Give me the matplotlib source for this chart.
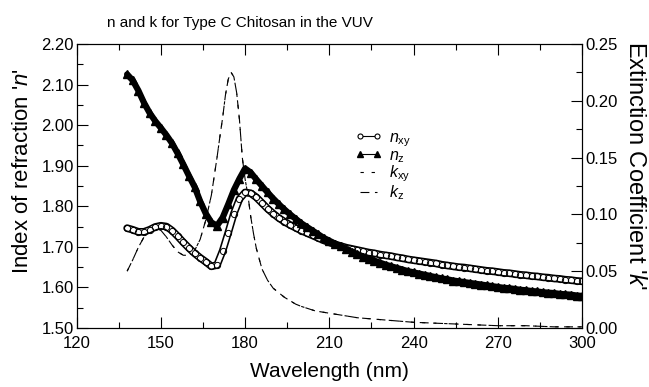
import matplotlib
matplotlib.use("Agg")
import matplotlib.pyplot as plt
from matplotlib.ticker import MultipleLocator, FormatStrFormatter

plt.rcParams['font.family'] = ['Liberation Sans', 'DejaVu Sans']
plt.rcParams['mathtext.fontset'] = 'custom'
plt.rcParams['mathtext.rm'] = 'Liberation Sans'
plt.rcParams['mathtext.it'] = 'Liberation Sans:italic'

# wavelength grid for the n curves (nm)
wl_n = [138, 140, 142, 144, 146, 148, 150, 152, 154, 156, 158, 160, 162, 164, 166, 168,
        170, 172, 174, 176, 178, 180, 182, 184, 186, 188, 190, 192, 194, 196, 198, 200,
        202, 204, 206, 208, 210, 212, 214, 216, 218, 220, 222, 224, 226, 228, 230, 232,
        234, 236, 238, 240, 242, 244, 246, 248, 250, 252, 254, 256, 258, 260, 262, 264,
        266, 268, 270, 272, 274, 276, 278, 280, 282, 284, 286, 288, 290, 292, 294, 296,
        298, 300]

n_xy = [1.746, 1.742, 1.737, 1.737, 1.742, 1.749, 1.752, 1.750, 1.740, 1.726, 1.711, 1.697,
        1.684, 1.673, 1.663, 1.652, 1.655, 1.690, 1.735, 1.782, 1.818, 1.834, 1.832, 1.822,
        1.808, 1.794, 1.782, 1.771, 1.762, 1.754, 1.747, 1.740, 1.734, 1.728, 1.722, 1.716,
        1.711, 1.706, 1.702, 1.698, 1.695, 1.692, 1.689, 1.686, 1.684, 1.681, 1.679, 1.677,
        1.674, 1.672, 1.669, 1.667, 1.665, 1.663, 1.661, 1.659, 1.656, 1.654, 1.652, 1.650,
        1.649, 1.647, 1.645, 1.643, 1.641, 1.640, 1.638, 1.636, 1.635, 1.633, 1.631, 1.630,
        1.628, 1.627, 1.625, 1.624, 1.622, 1.621, 1.619, 1.618, 1.616, 1.615]

n_z = [2.125, 2.110, 2.085, 2.055, 2.030, 2.010, 1.993, 1.975, 1.955, 1.930, 1.903, 1.875,
       1.848, 1.812, 1.782, 1.760, 1.752, 1.772, 1.805, 1.840, 1.868, 1.893, 1.883, 1.866,
       1.850, 1.834, 1.819, 1.805, 1.792, 1.780, 1.769, 1.758, 1.749, 1.740, 1.731, 1.722,
       1.715, 1.708, 1.701, 1.694, 1.688, 1.682, 1.676, 1.671, 1.666, 1.661, 1.656, 1.652,
       1.648, 1.644, 1.640, 1.637, 1.634, 1.631, 1.628, 1.625, 1.622, 1.620, 1.617, 1.615,
       1.613, 1.611, 1.609, 1.607, 1.605, 1.603, 1.601, 1.599, 1.598, 1.596, 1.594, 1.593,
       1.591, 1.590, 1.588, 1.587, 1.586, 1.584, 1.583, 1.582, 1.580, 1.579]

# wavelength grid for the k curves (finer around the peak)
wl_k = [138, 140, 142, 144, 146, 148, 150, 152, 154, 156, 158, 160, 162, 164, 166, 168,
        170, 171, 172, 173, 174, 175, 176, 177, 178, 179, 180, 181, 182, 183, 184, 186,
        188, 190, 192, 194, 196, 198, 200, 205, 210, 215, 220, 225, 230, 235, 240, 250,
        260, 270, 280, 290, 300]

k_xy = [0.050, 0.060, 0.071, 0.080, 0.086, 0.088, 0.086, 0.080, 0.073, 0.067, 0.064, 0.064,
        0.068, 0.078, 0.095, 0.117, 0.150, 0.168, 0.185, 0.205, 0.219, 0.225, 0.221, 0.207,
        0.183, 0.150, 0.131, 0.117, 0.098, 0.083, 0.070, 0.052, 0.042, 0.035, 0.031, 0.027,
        0.024, 0.021, 0.019, 0.015, 0.013, 0.011, 0.009, 0.008, 0.007, 0.006, 0.005, 0.004,
        0.003, 0.002, 0.002, 0.001, 0.001]

k_z = [0.050, 0.060, 0.071, 0.080, 0.086, 0.088, 0.086, 0.080, 0.073, 0.067, 0.064, 0.064,
       0.068, 0.078, 0.095, 0.117, 0.150, 0.168, 0.185, 0.205, 0.219, 0.225, 0.221, 0.207,
       0.183, 0.150, 0.131, 0.117, 0.098, 0.083, 0.070, 0.052, 0.042, 0.035, 0.031, 0.027,
       0.024, 0.021, 0.019, 0.015, 0.013, 0.011, 0.009, 0.008, 0.007, 0.006, 0.005, 0.004,
       0.003, 0.002, 0.002, 0.001, 0.001]

fig = plt.figure(figsize=(6.49, 3.87), dpi=100)
ax = fig.add_axes([0.118, 0.1525, 0.779, 0.734])
ax2 = ax.twinx()

# k curves on the right axis
lk1, = ax2.plot(wl_k, k_xy, color='black', lw=0.8, dashes=(3, 7))
lk2, = ax2.plot(wl_k, k_z, color='black', lw=0.8, dashes=(8, 5))

# n curves on the left axis: dense marker bands
ax.plot(wl_n, n_xy, color='black', lw=5.5, solid_capstyle='round')
ax.plot(wl_n, n_xy, color='white', lw=3.2, solid_capstyle='round')
ax.plot(wl_n, n_xy, ls='none', marker='o', ms=4.5, mfc='none', mec='black', mew=0.7)
ax.plot(wl_n, n_z, color='black', lw=4.5, solid_capstyle='round')
ax.plot(wl_n, n_z, ls='none', marker='^', ms=5.5, mfc='black', mec='black')

# legend handles
ln1, = ax.plot([], [], color='black', lw=0.8, marker='o', ms=4.5,
               mfc='white', mec='black', mew=0.8)
ln2, = ax.plot([], [], color='black', lw=0.8, marker='^', ms=6,
               mfc='black', mec='black')

ax.set_zorder(ax2.get_zorder() + 1)
ax.patch.set_visible(False)

ax.set_xlim(120, 300)
ax.set_ylim(1.50, 2.20)
ax2.set_ylim(0.0, 0.25)

ax.xaxis.set_major_locator(MultipleLocator(30))
ax.xaxis.set_minor_locator(MultipleLocator(15))
ax.yaxis.set_major_locator(MultipleLocator(0.1))
ax.yaxis.set_minor_locator(MultipleLocator(0.05))
ax.yaxis.set_major_formatter(FormatStrFormatter('%.2f'))
ax2.yaxis.set_major_locator(MultipleLocator(0.05))
ax2.yaxis.set_minor_locator(MultipleLocator(0.025))
ax2.yaxis.set_major_formatter(FormatStrFormatter('%.2f'))

ax.tick_params(which='both', direction='in', top=True, right=False, labelsize=12, width=0.8)
ax.tick_params(which='major', length=8)
ax.tick_params(which='minor', length=4)
ax.tick_params(axis='x', pad=6)
ax.tick_params(axis='y', pad=2)
ax2.tick_params(which='both', direction='in', labelsize=12, width=0.8, pad=2)
ax2.tick_params(which='major', length=8)
ax2.tick_params(which='minor', length=4)

ax.set_xlabel('Wavelength (nm)', fontsize=15)
ax.xaxis.set_label_coords(0.5, -0.12)
ax.set_ylabel("Index of refraction '$\\it{n}$'", fontsize=16)
ax.yaxis.set_label_coords(-0.086, 0.553)
fig.text(635 / 649, 1 - 165 / 387, "Extinction Coefficient '$\\it{k}$'", fontsize=17,
         rotation=270, ha='center', va='center')

fig.text(240 / 649, 1 - 23 / 387, 'n and k for Type C Chitosan in the VUV',
         fontsize=11, ha='center', va='center')

ax.legend([ln1, ln2, lk1, lk2],
          ['$n_{\\rm xy}$', '$n_{\\rm z}$', '$k_{\\rm xy}$', '$k_{\\rm z}$'],
          loc='upper left', bbox_to_anchor=(355 / 649, 1 - 130 / 387),
          bbox_transform=fig.transFigure, frameon=False, fontsize=11.5,
          borderpad=0, borderaxespad=0, handlelength=1.7, handletextpad=0.4,
          labelspacing=-0.05, numpoints=2, markerscale=0.8)

fig.savefig('out.png', dpi=100)
